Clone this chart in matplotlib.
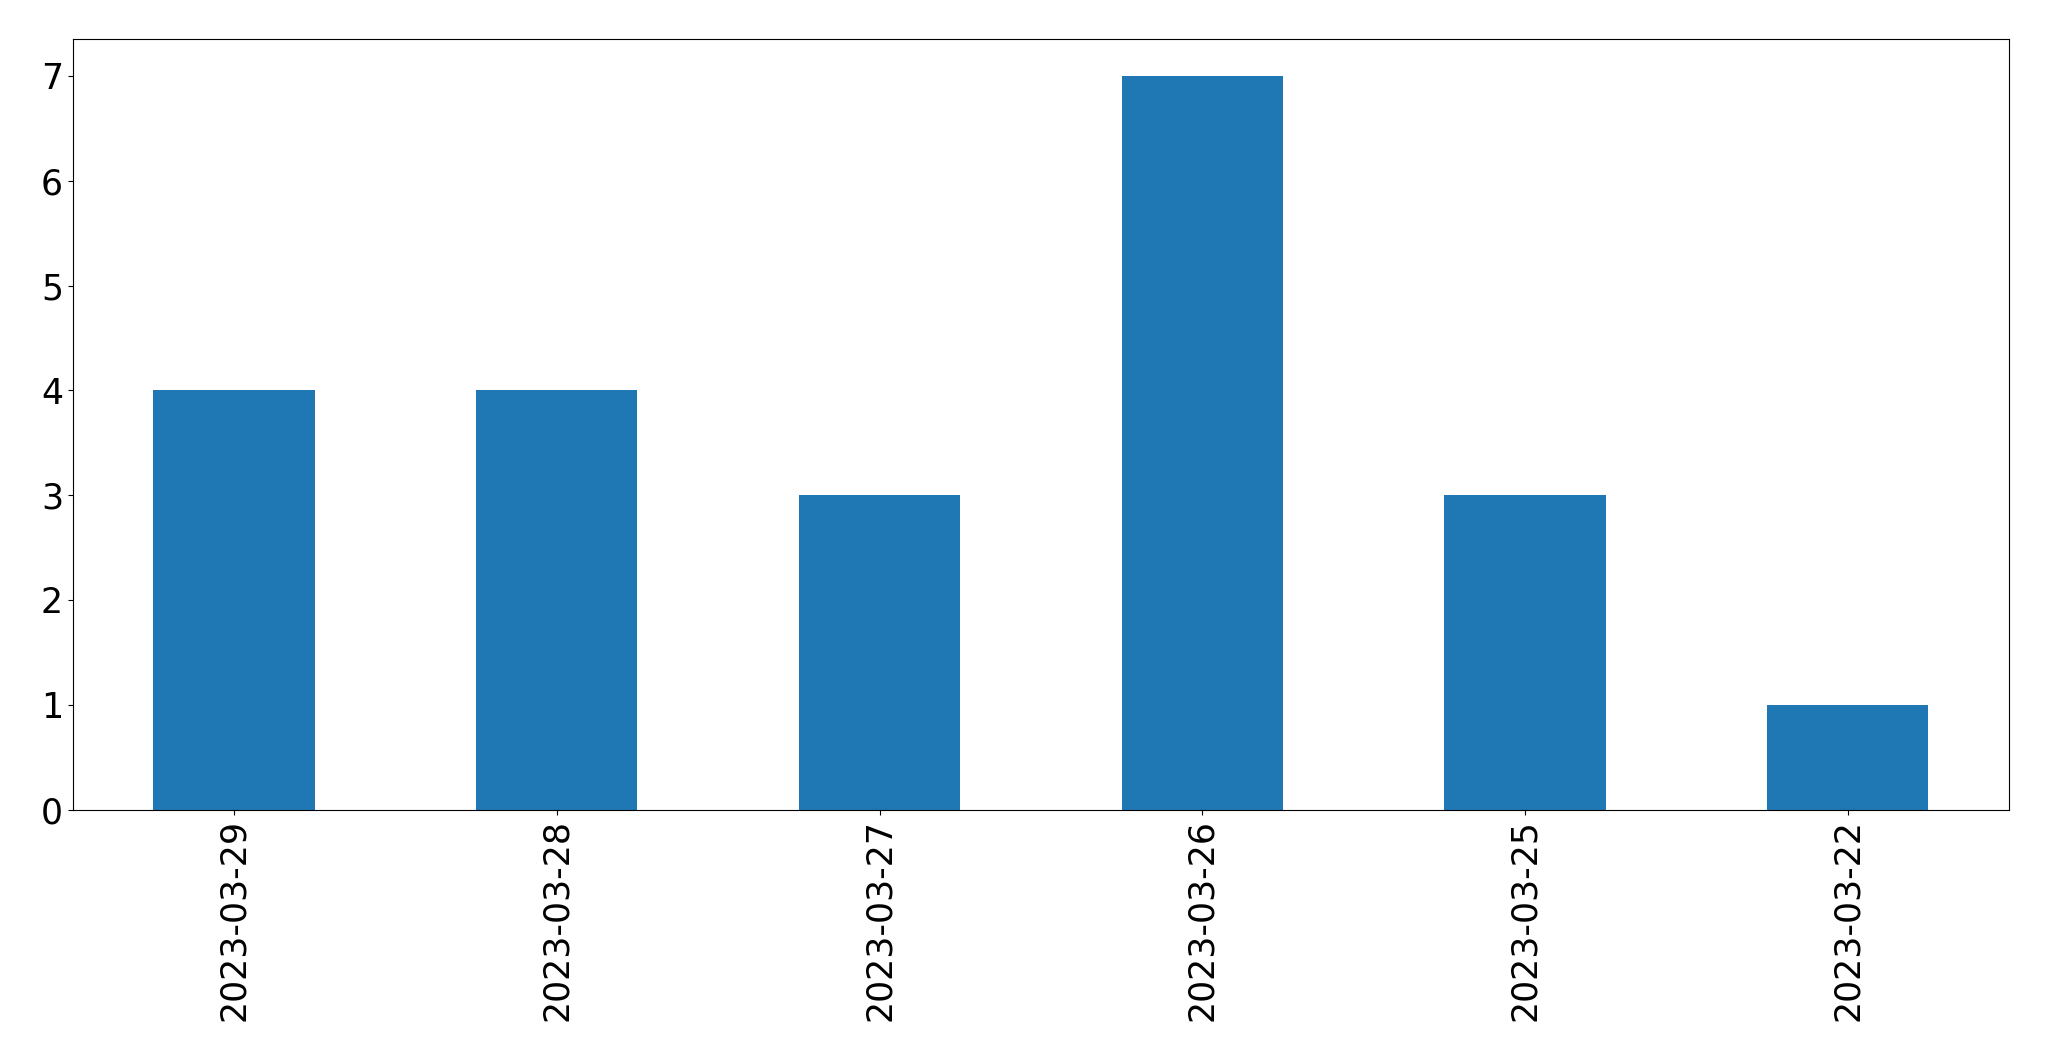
import matplotlib
matplotlib.use('Agg')
import matplotlib.pyplot as plt
import pandas as pd

# conteggi per giorno
dates = ['2023-03-29', '2023-03-28', '2023-03-27', '2023-03-26', '2023-03-25', '2023-03-22']
counts = [4, 4, 3, 7, 3, 1]

s = pd.Series(counts, index=dates)

fig, ax = plt.subplots(figsize=(20.49, 10.61), dpi=100)
s.plot(kind='bar', ax=ax, color='#1f77b4', fontsize=25)
fig.subplots_adjust(left=0.0355, right=0.9805, top=0.963, bottom=0.237)

fig.savefig('out.png', dpi=100)
